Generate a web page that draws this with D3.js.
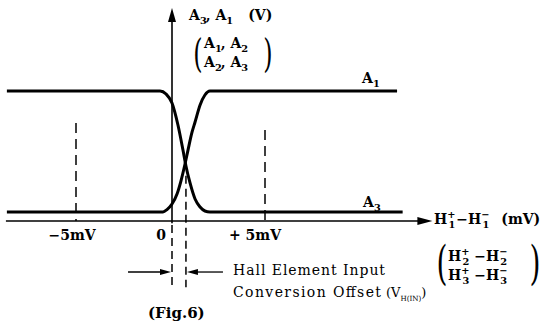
<!DOCTYPE html>
<html><head><meta charset="utf-8">
<script src="https://cdn.jsdelivr.net/npm/d3@7"></script>
<style>body{margin:0;background:#fff}</style>
</head><body>
<svg id="chart" width="549" height="327"></svg>
<script>
// Output A1 (rising) and A3 (falling) against Hall input difference, mV -> V
const a1Mv = [-8.6, -0.47, -0.26, 0, 0.27, 0.48, 0.70, 0.86, 1.08, 1.24, 1.51, 1.77, 2.04, 12.1];
const a1V  = [0.23, 0.23, 0.29, 0.43, 0.685, 1.015, 1.447, 1.80, 2.26, 2.513, 2.945, 3.198, 3.3, 3.3];
const a3Mv = [-8.6, -0.625, -0.31, 0, 0.32, 0.59, 0.75, 0.97, 1.24, 1.51, 1.77, 2.04, 12.4];
const a3V  = [3.3, 3.3, 3.224, 2.995, 2.437, 1.80, 1.396, 0.965, 0.558, 0.355, 0.254, 0.23, 0.23];
const tickMv = [-5, 0, 5];
const tickLabels = ["−5mV", "0", "+ 5mV"];
const guideMv = [-5, 5];
const guideTopV = [2.49, 2.31];
const offsetMv = 0.75;

const serif = "'DejaVu Serif', 'Liberation Serif', serif";
const svg = d3.select("#chart");

const x = d3.scaleLinear().domain([-5, 0, 5]).range([76, 172, 265]);
const y = d3.scaleLinear().domain([0, 3.3]).range([221, 91]);

const line = d3.line().x(d => x(d[0])).y(d => y(d[1])).curve(d3.curveMonotoneX);

// axes with arrowheads
const xEnd = 14.0, xStart = -8.65, yTop = 5.41;
svg.append("line").attr("x1", x(xStart)).attr("x2", x(xEnd) - 10).attr("y1", y(0)).attr("y2", y(0))
  .attr("stroke", "#000").attr("stroke-width", 1.6);
svg.append("path")
  .attr("d", `M${x(xEnd)},${y(0)} L${x(xEnd) - 15},${y(0) - 4} L${x(xEnd) - 15},${y(0) + 4} Z`)
  .attr("fill", "#000");
svg.append("line").attr("x1", x(0)).attr("x2", x(0)).attr("y1", y(-0.06)).attr("y2", y(yTop) + 10)
  .attr("stroke", "#000").attr("stroke-width", 1.6);
svg.append("path")
  .attr("d", `M${x(0)},${y(yTop)} L${x(0) - 4},${y(yTop) + 14} L${x(0) + 4},${y(yTop) + 14} Z`)
  .attr("fill", "#000");

// dashed guides at ±5 mV
guideMv.forEach((m, i) => {
  svg.append("line").attr("x1", x(m)).attr("x2", x(m)).attr("y1", y(guideTopV[i])).attr("y2", y(0))
    .attr("stroke", "#000").attr("stroke-width", 1.5).attr("stroke-dasharray", "10,6");
});

// dashed drops at 0 and at the offset
const dropV = -1.68;
svg.append("line").attr("x1", x(0)).attr("x2", x(0)).attr("y1", y(-0.1)).attr("y2", y(dropV))
  .attr("stroke", "#000").attr("stroke-width", 1.5).attr("stroke-dasharray", "8,5");
svg.append("line").attr("x1", x(offsetMv)).attr("x2", x(offsetMv)).attr("y1", y(1.15)).attr("y2", y(dropV))
  .attr("stroke", "#000").attr("stroke-width", 1.5).attr("stroke-dasharray", "8,5");

// dimension arrows for the offset
const arrowV = -1.295;
const ay = y(arrowV);
const lTip = x(0) - 1, rTip = x(offsetMv) + 1;
svg.append("line").attr("x1", x(-2.29)).attr("x2", lTip - 8).attr("y1", ay).attr("y2", ay)
  .attr("stroke", "#000").attr("stroke-width", 1.3);
svg.append("path").attr("d", `M${lTip},${ay} L${lTip - 11},${ay - 3} L${lTip - 11},${ay + 3} Z`).attr("fill", "#000");
svg.append("line").attr("x1", x(2.74)).attr("x2", rTip + 8).attr("y1", ay).attr("y2", ay)
  .attr("stroke", "#000").attr("stroke-width", 1.3);
svg.append("path").attr("d", `M${rTip},${ay} L${rTip + 11},${ay - 3} L${rTip + 11},${ay + 3} Z`).attr("fill", "#000");

// output curves
svg.append("path").datum(d3.zip(a1Mv, a1V)).attr("d", line)
  .attr("fill", "none").attr("stroke", "#000").attr("stroke-width", 3);
svg.append("path").datum(d3.zip(a3Mv, a3V)).attr("d", line)
  .attr("fill", "none").attr("stroke", "#000").attr("stroke-width", 3);

// text with sub/superscripts
function rich(px, py, parts, size, weight, subScale) {
  const k = subScale || 0.7;
  const t = svg.append("text").attr("x", px).attr("y", py)
    .attr("font-family", serif).attr("font-size", size).attr("font-weight", weight || "normal");
  let cur = 0;
  parts.forEach(p => {
    const target = p.s === "sub" ? size * 0.28 : p.s === "sup" ? -size * 0.4 : 0;
    const ts = t.append("tspan").text(p.t).attr("dy", target - cur);
    if (p.s) ts.attr("font-size", size * k);
    if (p.dx) ts.attr("dx", p.dx);
    cur = target;
  });
  return t;
}
function paren(px, py, ch, size, sx) {
  svg.append("text").attr("transform", `translate(${px},${py}) scale(${sx},1)`)
    .attr("font-family", serif).attr("font-size", size).attr("text-anchor", "middle").text(ch);
}

// axis titles
rich(189, 20, [{t: "A"}, {t: "3", s: "sub"}, {t: ", A", dx: -1}, {t: "1", s: "sub"}, {t: "(V)", dx: 15}], 14, "bold");
rich(204, 48, [{t: "A"}, {t: "1", s: "sub"}, {t: ", A", dx: -1}, {t: "2", s: "sub"}], 14, "bold");
rich(204, 67, [{t: "A"}, {t: "2", s: "sub"}, {t: ", A", dx: -1}, {t: "3", s: "sub"}], 14, "bold");
paren(198, 67, "(", 40, 0.6);
paren(268, 67, ")", 40, 0.6);

// curve labels
rich(362, 83, [{t: "A"}, {t: "1", s: "sub"}], 14, "bold");
rich(363, 207, [{t: "A"}, {t: "3", s: "sub"}], 14, "bold");

// tick labels
const tickX = [72, 161, 255];
tickMv.forEach((m, i) => {
  svg.append("text").attr("x", tickX[i]).attr("y", 240).attr("text-anchor", "middle")
    .attr("font-family", serif).attr("font-size", 14).attr("font-weight", "bold")
    .text(tickLabels[i]);
});

// x-axis title
rich(434, 224, [{t: "H"}, {t: "+", s: "sup"}, {t: "1", s: "sub", dx: -7}, {t: "−H", dx: 1}, {t: "−", s: "sup"}, {t: "1", s: "sub", dx: -7}, {t: "(mV)", dx: 12}], 14, "bold");
rich(448, 261, [{t: "H"}, {t: "+", s: "sup"}, {t: "2", s: "sub", dx: -7}, {t: " −H"}, {t: "−", s: "sup"}, {t: "2", s: "sub", dx: -7}], 14, "bold");
rich(448, 280, [{t: "H"}, {t: "+", s: "sup"}, {t: "3", s: "sub", dx: -7}, {t: " −H"}, {t: "−", s: "sup"}, {t: "3", s: "sub", dx: -7}], 14, "bold");
paren(442, 279, "(", 47, 0.6);
paren(535, 279, ")", 47, 0.6);

// offset annotation
svg.append("text").attr("x", 233).attr("y", 275).attr("font-family", serif).attr("font-size", 14)
  .attr("textLength", 152).attr("lengthAdjust", "spacing").text("Hall Element Input");
svg.append("text").attr("x", 233).attr("y", 297).attr("font-family", serif).attr("font-size", 14)
  .attr("textLength", 148).attr("lengthAdjust", "spacing").text("Conversion Offset");
rich(386, 297, [{t: "(V"}, {t: "H(IN)", s: "sub"}, {t: ")"}], 13, "normal", 0.55);

// figure caption
svg.append("text").attr("x", 148).attr("y", 318).attr("font-family", serif).attr("font-size", 15)
  .attr("font-weight", "bold").text("(Fig.6)");
</script>
</body></html>
